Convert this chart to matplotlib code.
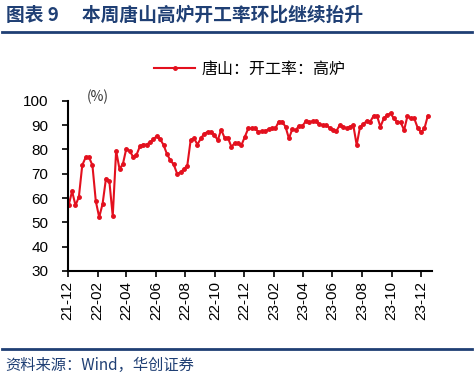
import numpy as np
import pandas as pd
import matplotlib
matplotlib.use("Agg")
import matplotlib.pyplot as plt
import matplotlib.dates as mdates

plt.rcParams['font.family'] = ['Liberation Sans', 'Noto Sans CJK SC', 'DejaVu Sans']

# weekly Tangshan blast furnace operating rate (%)
rate = [57.1, 62.8, 57.0, 60.4, 73.5, 76.7, 76.7, 73.5, 58.7, 52.1,
        57.6, 68.0, 66.8, 52.6, 79.4, 71.9, 74.0, 80.3, 79.3, 77.0,
        77.7, 81.2, 82.0, 82.0, 82.9, 84.1, 85.5, 84.2, 81.8, 78.1,
        75.5, 73.8, 70.0, 70.5, 71.9, 73.3, 83.8, 84.5, 82.0, 84.5,
        86.4, 87.2, 87.2, 85.9, 83.8, 88.1, 84.8, 84.8, 81.1, 82.5,
        82.5, 81.8, 85.2, 88.6, 88.6, 88.6, 87.2, 87.5, 87.5, 88.3,
        88.6, 88.6, 91.4, 91.4, 89.3, 84.5, 88.3, 87.9, 89.7, 89.7,
        91.6, 91.1, 91.6, 91.6, 90.3, 90.0, 90.0, 88.9, 87.9, 87.5,
        90.0, 89.3, 88.6, 89.3, 90.0, 81.8, 89.3, 90.3, 91.8, 91.4,
        93.8, 93.8, 89.3, 92.7, 94.1, 94.8, 92.7, 91.1, 91.1, 87.9,
        93.8, 92.7, 92.7, 88.9, 87.0, 88.6, 93.8]
dates = pd.date_range('2021-12-03', periods=len(rate), freq='7D')
series_name = '唐山：开工率：高炉'

title = '图表 9　 本周唐山高炉开工率环比继续抬升'
source = '资料来源：Wind，华创证券'
navy = '#1F3F74'

fig = plt.figure(figsize=(4.77, 3.86), dpi=100)

# header and footer
fig.text(0.012, 0.962, title, fontsize=13.5, fontweight='bold', color=navy,
         family=['Noto Sans CJK SC'], va='center')
fig.add_artist(plt.Line2D([0.004, 0.99], [0.918, 0.918], color=navy, lw=2))
fig.add_artist(plt.Line2D([0.004, 0.99], [0.096, 0.096], color=navy, lw=2))
fig.text(0.012, 0.052, source, fontsize=11, color=navy, style='italic',
         family=['Noto Sans CJK SC'], va='center')

ax = fig.add_axes([0.142, 0.298, 0.763, 0.441])
ax.plot(dates, rate, color='#E3101E', lw=1.5, marker='o', ms=2.5,
        label=series_name)

ax.set_ylim(30, 100)
ax.set_yticks(range(30, 101, 10))
ax.set_xlim(pd.Timestamp('2021-12-01'), pd.Timestamp('2023-12-23'))
ax.xaxis.set_major_locator(mdates.MonthLocator(bymonth=range(2, 13, 2)))
ax.xaxis.set_major_formatter(mdates.DateFormatter('%y-%m'))
plt.setp(ax.get_xticklabels(), rotation=90)

for s in ['top', 'right']:
    ax.spines[s].set_visible(False)
for s in ['left', 'bottom']:
    ax.spines[s].set_linewidth(1.5)
ax.tick_params(axis='both', labelsize=11, length=4, width=1.2)
ax.tick_params(axis='y', pad=10)

ax.text(0.083, 1.022, '(%)', transform=ax.transAxes, fontsize=10,
        ha='center', va='center', color='#333333',
        family=['Noto Sans CJK SC'])

leg = ax.legend(loc='lower center', bbox_to_anchor=(0.5, 1.05), frameon=False,
                prop={'family': ['Noto Sans CJK SC'], 'size': 11.5},
                handlelength=2.6, handletextpad=0.4)

fig.savefig('out.png', dpi=100)
